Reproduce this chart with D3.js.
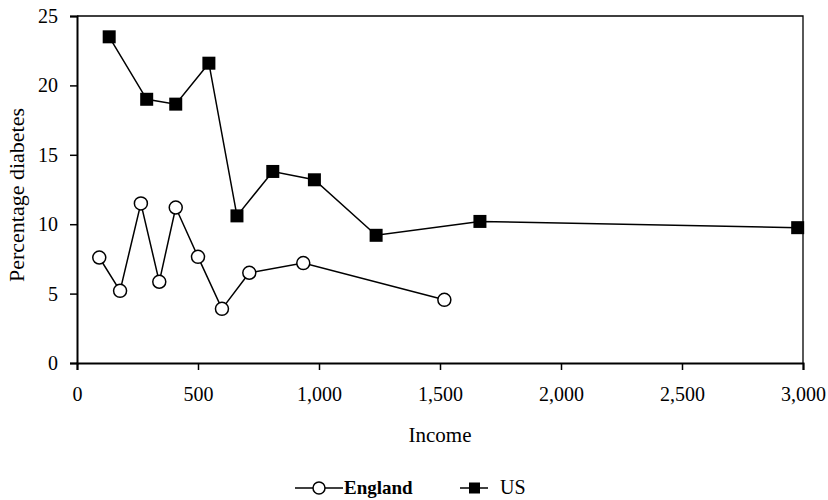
<!DOCTYPE html>
<html>
<head>
<meta charset="utf-8">
<script src="https://cdn.jsdelivr.net/npm/d3@7"></script>
<style>
  body { margin: 0; background: #fff; }
  text { font-family: "Liberation Serif", "Times New Roman", serif; fill: #000; }
</style>
</head>
<body>
<div id="chart"></div>
<script>
// data
var englandIncome = [92, 178, 264, 340, 408, 500, 599, 712, 935, 1518];
var englandPct    = [7.6, 5.2, 11.5, 5.85, 11.2, 7.65, 3.9, 6.5, 7.2, 4.55];
var usIncome = [133, 288, 408, 545, 661, 809, 981, 1236, 1665, 2978];
var usPct    = [23.5, 19.0, 18.65, 21.6, 10.6, 13.8, 13.2, 9.2, 10.2, 9.75];
var xTicks = [0, 500, 1000, 1500, 2000, 2500, 3000];
var yTicks = [0, 5, 10, 15, 20, 25];

var england = englandIncome.map(function(d, i) { return {x: d, y: englandPct[i]}; });
var us = usIncome.map(function(d, i) { return {x: d, y: usPct[i]}; });

var width = 828, height = 500;
var margin = {top: 16, right: 25, bottom: 137, left: 77},
    w = width - margin.left - margin.right,
    h = height - margin.top - margin.bottom;

var svg = d3.select("#chart").append("svg")
    .attr("width", width)
    .attr("height", height);

var g = svg.append("g")
    .attr("transform", "translate(" + margin.left + "," + margin.top + ")");

var x = d3.scaleLinear().domain([0, 3000]).range([0, w]);
var y = d3.scaleLinear().domain([0, 25]).range([h, 0]);

// plot frame (top and right)
g.append("path")
    .attr("d", "M0,0H" + w + "V" + h)
    .attr("fill", "none")
    .attr("stroke", "#000")
    .attr("stroke-width", 1.3);

// x axis
var xAxis = g.append("g")
    .attr("transform", "translate(0," + h + ")")
    .call(d3.axisBottom(x).tickValues(xTicks).tickFormat(d3.format(",")).tickSize(7).tickPadding(17));

// y axis
var yAxis = g.append("g")
    .call(d3.axisLeft(y).tickValues(yTicks).tickSize(7).tickPadding(12));

[xAxis, yAxis].forEach(function(a) {
  a.select(".domain").attr("stroke-width", 2);
  a.selectAll(".tick line").attr("stroke-width", 1.5);
  a.selectAll("text")
      .style("font-family", "Liberation Serif, Times New Roman, serif")
      .style("font-size", "20px");
});

// axis titles
svg.append("text")
    .attr("x", margin.left + w / 2)
    .attr("y", 442)
    .attr("text-anchor", "middle")
    .style("font-size", "21px")
    .text("Income");

svg.append("text")
    .attr("transform", "translate(16,195) rotate(-90)")
    .attr("text-anchor", "middle")
    .attr("dy", "0.35em")
    .style("font-size", "22px")
    .text("Percentage diabetes");

var line = d3.line()
    .x(function(d) { return x(d.x); })
    .y(function(d) { return y(d.y); });

// England
g.append("path")
    .datum(england)
    .attr("fill", "none")
    .attr("stroke", "#000")
    .attr("stroke-width", 1.5)
    .attr("d", line);

g.selectAll("circle.eng")
    .data(england)
  .enter().append("circle")
    .attr("class", "eng")
    .attr("cx", function(d) { return x(d.x); })
    .attr("cy", function(d) { return y(d.y); })
    .attr("r", 6.5)
    .attr("fill", "#fff")
    .attr("stroke", "#000")
    .attr("stroke-width", 1.5);

// US
g.append("path")
    .datum(us)
    .attr("fill", "none")
    .attr("stroke", "#000")
    .attr("stroke-width", 1.5)
    .attr("d", line);

g.selectAll("rect.us")
    .data(us)
  .enter().append("rect")
    .attr("class", "us")
    .attr("x", function(d) { return x(d.x) - 6.5; })
    .attr("y", function(d) { return y(d.y) - 6.5; })
    .attr("width", 13)
    .attr("height", 13)
    .attr("fill", "#000");

// legend
var leg = svg.append("g").attr("transform", "translate(0,488)");

leg.append("line").attr("x1", 295).attr("x2", 343).attr("y1", 0).attr("y2", 0)
    .attr("stroke", "#000").attr("stroke-width", 1.5);
leg.append("circle").attr("cx", 319).attr("cy", 0).attr("r", 6)
    .attr("fill", "#fff").attr("stroke", "#000").attr("stroke-width", 1.5);
leg.append("text").attr("x", 344).attr("y", 6)
    .style("font-size", "19px").style("font-weight", "bold").text("England");

leg.append("line").attr("x1", 460).attr("x2", 488).attr("y1", 0).attr("y2", 0)
    .attr("stroke", "#000").attr("stroke-width", 1.5);
leg.append("rect").attr("x", 469).attr("y", -5.5).attr("width", 11).attr("height", 11)
    .attr("fill", "#000");
leg.append("text").attr("x", 500).attr("y", 6)
    .style("font-size", "20px").text("US");
</script>
</body>
</html>
